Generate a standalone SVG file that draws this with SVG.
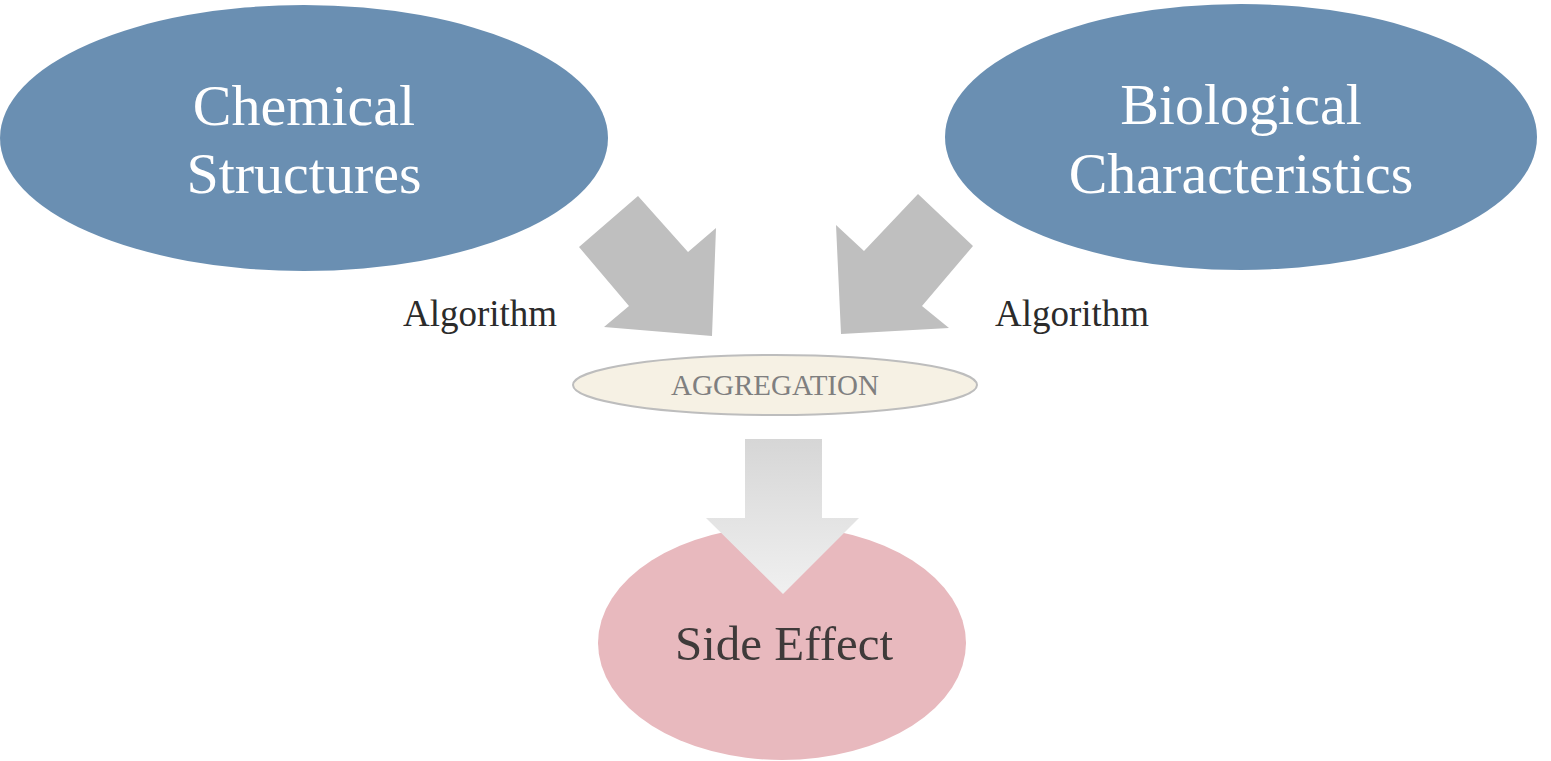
<svg xmlns="http://www.w3.org/2000/svg" width="1551" height="761" viewBox="0 0 1551 761">
<style>
.t{font-family:"Liberation Serif","Times New Roman",serif;text-anchor:middle}
.big{fill:#ffffff;font-size:58px}
.alg{fill:#2b2b2b;font-size:37px}
.agg{fill:#7f7f7f;font-size:29px}
.se{fill:#3f3a3a;font-size:49px}
.arr{fill:#bfbfbf}
</style>
<defs>
<linearGradient id="dg" x1="0" y1="0" x2="0" y2="1">
<stop offset="0" stop-color="#d6d6d6"/>
<stop offset="1" stop-color="#f0f0f0"/>
</linearGradient>
</defs>
<rect width="1551" height="761" fill="#ffffff"/>
<g id="chemical">
<ellipse cx="304" cy="138" rx="304" ry="133" fill="#6a8fb2"/>
<text class="t big" x="304" y="125">Chemical</text>
<text class="t big" x="304" y="193">Structures</text>
</g>
<g id="biological">
<ellipse cx="1241" cy="137" rx="296" ry="133" fill="#6a8fb2"/>
<text class="t big" x="1241" y="124">Biological</text>
<text class="t big" x="1241" y="193">Characteristics</text>
</g>
<g id="aggregation">
<ellipse cx="775" cy="385" rx="202" ry="30" fill="#f6f1e4" stroke="#bdbdbd" stroke-width="2"/>
<text class="t agg" x="775" y="395">AGGREGATION</text>
</g>
<g id="side-effect">
<ellipse cx="782" cy="643" rx="184" ry="117" fill="#e8b9be"/>
<text class="t se" x="784" y="660">Side Effect</text>
</g>
<g id="connectors">
<polygon class="arr" points="579,247 638,196 688,252 716,228 712,336 604,327 629,306"/>
<polygon class="arr" points="918,194 973,246 922,306 949,328 841,334 836,225 864,251"/>
<polygon fill="url(#dg)" points="745,439 822,439 822,518 859,518 783,594 706,518 745,518"/>
<text class="t alg" x="480" y="326">Algorithm</text>
<text class="t alg" x="1072" y="326">Algorithm</text>
</g>
</svg>
